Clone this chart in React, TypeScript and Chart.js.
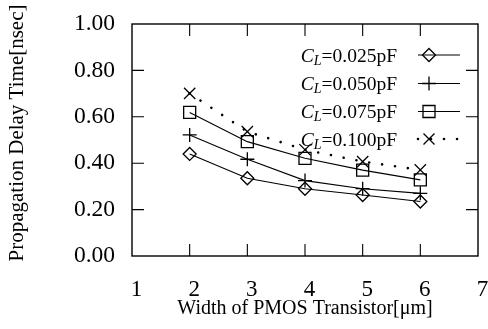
import React, { useEffect, useRef } from 'react';
import { Chart, registerables } from 'chart.js';

Chart.register(...registerables);

const widths = [2, 3, 4, 5, 6];
const delay025 = [0.44, 0.335, 0.29, 0.263, 0.235];
const delay050 = [0.522, 0.417, 0.325, 0.29, 0.27];
const delay075 = [0.619, 0.493, 0.421, 0.37, 0.328];
const delay100 = [0.701, 0.536, 0.458, 0.407, 0.371];
const loadLabels = ['=0.025pF', '=0.050pF', '=0.075pF', '=0.100pF'];
const xTickValues = [2, 3, 4, 5, 6];
const yTickValues = [0.2, 0.4, 0.6, 0.8];
const xTitle = 'Width of PMOS Transistor[\u03bcm]';
const yTitle = 'Propagation Delay Time[nsec]';

const SERIF = "'Liberation Serif', 'Times New Roman', serif";

type Mk = 'diamond' | 'plus' | 'square' | 'x';
const markers: Mk[] = ['diamond', 'plus', 'square', 'x'];

function drawMarker(ctx: CanvasRenderingContext2D, kind: Mk, x: number, y: number) {
  ctx.beginPath();
  if (kind === 'diamond') {
    const r = 6.5;
    ctx.moveTo(x, y - r);
    ctx.lineTo(x + r, y);
    ctx.lineTo(x, y + r);
    ctx.lineTo(x - r, y);
    ctx.closePath();
  } else if (kind === 'plus') {
    const r = 7;
    ctx.moveTo(x - r, y);
    ctx.lineTo(x + r, y);
    ctx.moveTo(x, y - r);
    ctx.lineTo(x, y + r);
  } else if (kind === 'square') {
    const r = 6;
    ctx.rect(x - r, y - r, 2 * r, 2 * r);
  } else {
    const r = 5.5;
    ctx.moveTo(x - r, y - r);
    ctx.lineTo(x + r, y + r);
    ctx.moveTo(x + r, y - r);
    ctx.lineTo(x - r, y + r);
  }
  ctx.stroke();
}

const framePlugin = {
  id: 'gnuFrame',
  afterDatasetsDraw(chart: any) {
    const { ctx, chartArea: a, scales } = chart;
    const xs = scales.x;
    const ys = scales.y;
    ctx.save();
    ctx.strokeStyle = '#000';
    ctx.lineWidth = 1.4;
    ctx.setLineDash([]);
    ctx.strokeRect(a.left, a.top, a.right - a.left, a.bottom - a.top);
    ctx.lineWidth = 1.1;
    const tl = 12;
    ctx.beginPath();
    xTickValues.forEach((v) => {
      const px = xs.getPixelForValue(v);
      ctx.moveTo(px, a.bottom);
      ctx.lineTo(px, a.bottom - tl);
      ctx.moveTo(px, a.top);
      ctx.lineTo(px, a.top + tl);
    });
    yTickValues.forEach((v) => {
      const py = ys.getPixelForValue(v);
      ctx.moveTo(a.left, py);
      ctx.lineTo(a.left + tl, py);
      ctx.moveTo(a.right, py);
      ctx.lineTo(a.right - tl, py);
    });
    ctx.stroke();
    ctx.restore();
  },
};

const yTitlePlugin = {
  id: 'yTitle',
  afterDraw(chart: any) {
    const { ctx } = chart;
    ctx.save();
    ctx.translate(17, 133);
    ctx.rotate(-Math.PI / 2);
    ctx.fillStyle = '#000';
    ctx.font = `21px ${SERIF}`;
    ctx.textAlign = 'center';
    ctx.textBaseline = 'middle';
    ctx.fillText(yTitle, 0, 0);
    ctx.restore();
  },
};

const legendPlugin = {
  id: 'gnuLegend',
  afterDraw(chart: any) {
    const { ctx } = chart;
    const textRight = 397;
    const rows = [55, 83.5, 111.5, 139];
    const lineL = 418;
    const lineR = 460;
    const markX = 429;
    const fs = 19.5;
    ctx.save();
    chart.data.datasets.forEach((ds: any, i: number) => {
      const y = rows[i];
      const base = y + 6.5;
      ctx.fillStyle = '#000';
      ctx.textBaseline = 'alphabetic';
      ctx.textAlign = 'left';
      ctx.font = `${fs}px ${SERIF}`;
      const wRest = ctx.measureText(loadLabels[i]).width;
      ctx.font = `italic ${fs * 0.72}px ${SERIF}`;
      const wSub = ctx.measureText('L').width;
      ctx.font = `italic ${fs}px ${SERIF}`;
      const wC = ctx.measureText('C').width;
      let x = textRight - wRest - wSub - wC;
      ctx.fillText('C', x, base);
      x += wC;
      ctx.font = `italic ${fs * 0.72}px ${SERIF}`;
      ctx.fillText('L', x, base + 3);
      x += wSub;
      ctx.font = `${fs}px ${SERIF}`;
      ctx.fillText(loadLabels[i], x, base);

      ctx.strokeStyle = '#000';
      ctx.lineWidth = ds.borderWidth;
      ctx.lineCap = ds.borderCapStyle || 'butt';
      ctx.setLineDash(ds.borderDash || []);
      ctx.beginPath();
      ctx.moveTo(lineL, y);
      ctx.lineTo(lineR, y);
      ctx.stroke();
      ctx.setLineDash([]);
      ctx.lineCap = 'butt';
      ctx.lineWidth = 1.3;
      drawMarker(ctx, markers[i], markX, y);
    });
    ctx.restore();
  },
};

const hiddenGrid = (tickLength: number) => ({
  display: true,
  drawOnChartArea: false,
  drawTicks: true,
  tickLength,
  color: 'rgba(0,0,0,0)',
});

export default function App() {
  const ref = useRef<HTMLCanvasElement>(null);
  useEffect(() => {
    if (!ref.current) return;
    const mk = (data: number[], style: string, radius: number, extra: any = {}) => ({
      data: widths.map((w, i) => ({ x: w, y: data[i] })),
      borderColor: '#000',
      backgroundColor: 'rgba(0,0,0,0)',
      borderWidth: 1.1,
      pointStyle: style,
      pointRadius: radius,
      pointBorderColor: '#000',
      pointBackgroundColor: 'rgba(0,0,0,0)',
      pointBorderWidth: 1.3,
      tension: 0,
      fill: false,
      ...extra,
    });
    const chart = new Chart(ref.current, {
      type: 'line',
      data: {
        datasets: [
          mk(delay025, 'rectRot', 6.5),
          mk(delay050, 'cross', 7),
          mk(delay075, 'rect', 8.5),
          mk(delay100, 'crossRot', 8, { borderDash: [0.01, 13], borderCapStyle: 'round', borderWidth: 2.6 }),
        ],
      },
      options: {
        responsive: false,
        animation: false,
        events: [],
        layout: { padding: { left: 0, right: 10, top: 24, bottom: 0 } },
        plugins: { legend: { display: false }, tooltip: { enabled: false } },
        scales: {
          x: {
            type: 'linear',
            min: 1,
            max: 7,
            grid: hiddenGrid(18),
            border: { display: false },
            ticks: {
              stepSize: 1,
              padding: 2,
              labelOffset: 4.5,
              color: '#000',
              font: { family: SERIF, size: 23 },
              maxRotation: 0,
              autoSkip: false,
            },
            title: {
              display: true,
              text: xTitle,
              color: '#000',
              font: { family: SERIF, size: 20 },
              padding: { top: 0, bottom: 8 },
            },
            afterFit: (s: any) => {
              s.height = 73;
            },
          },
          y: {
            type: 'linear',
            min: 0,
            max: 1,
            grid: hiddenGrid(15),
            border: { display: false },
            ticks: {
              stepSize: 0.2,
              padding: 2,
              color: '#000',
              font: { family: SERIF, size: 23.5 },
              callback: (v: any) => Number(v).toFixed(2),
            },
            title: { display: false },
            afterFit: (s: any) => {
              s.width = 132;
            },
          },
        },
      },
      plugins: [framePlugin, legendPlugin, yTitlePlugin],
    });
    return () => chart.destroy();
  }, []);
  return (
    <div style={{ position: 'fixed', left: 0, top: 0, width: 488, height: 329, background: '#fff' }}>
      <canvas ref={ref} width={488} height={329} />
    </div>
  );
}
